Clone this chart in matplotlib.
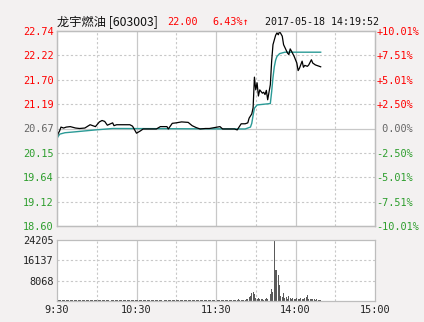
import matplotlib
matplotlib.use("Agg")
import matplotlib.pyplot as plt

# price ticks (left) and change labels (right)
price_ticks = [18.60, 19.12, 19.64, 20.15, 20.67, 21.19, 21.70, 22.22, 22.74]
pct_labels = ['-10.01%', '-7.51%', '-5.01%', '-2.50%', ' 0.00%',
              '+2.50%', '+5.01%', '+7.51%', '+10.01%']
prev_close = 20.67

# minute index (0 = 9:30, 120 = 13:00) and price
price_min = [0, 1, 2, 3, 5, 7, 10, 14, 17, 21, 25, 29, 32, 34, 36, 38, 42, 43,
             45, 51, 55, 57, 60, 63, 65, 70, 75, 78, 83, 84, 87, 90, 94, 99,
             102, 105, 108, 112, 115, 119, 123, 125, 131, 134, 136, 139, 142,
             144, 145, 147, 148, 149, 150, 151, 152, 153, 155, 156, 157, 158,
             159, 161, 162, 163, 165, 166, 167, 168, 170, 171, 174, 175, 176,
             177, 179, 181, 182, 183, 185, 186, 187, 189, 190, 192, 193, 195,
             197, 199]
price_val = [20.49, 20.57, 20.62, 20.70, 20.68, 20.70, 20.71, 20.68, 20.67,
             20.68, 20.75, 20.71, 20.81, 20.84, 20.82, 20.74, 20.79, 20.73,
             20.75, 20.75, 20.75, 20.72, 20.57, 20.62, 20.66, 20.66, 20.66,
             20.71, 20.71, 20.66, 20.78, 20.79, 20.81, 20.80, 20.73, 20.69,
             20.66, 20.67, 20.67, 20.69, 20.71, 20.66, 20.66, 20.66, 20.64,
             20.77, 20.77, 20.79, 20.89, 20.98, 21.11, 21.76, 21.49, 21.64,
             21.36, 21.49, 21.42, 21.44, 21.39, 21.48, 21.28, 21.60, 22.10,
             22.45, 22.65, 22.70, 22.66, 22.73, 22.63, 22.45, 22.27, 22.24,
             22.36, 22.31, 22.20, 22.06, 21.90, 21.95, 22.10, 21.97, 22.01,
             21.99, 22.02, 22.13, 22.06, 22.02, 22.00, 21.98]

# average price line
avg_min = [0, 2, 6, 14, 29, 42, 142, 146, 147, 148, 149, 151, 161, 162, 163,
           164, 165, 166, 168, 172, 199]
avg_val = [20.46, 20.55, 20.58, 20.60, 20.64, 20.67, 20.66, 20.70, 20.78,
           20.95, 21.10, 21.17, 21.20, 21.45, 21.75, 21.98, 22.12, 22.20,
           22.26, 22.29, 22.29]

# volume per minute, 9:30 .. 14:19
volume = [
    600, 500, 450, 400, 500, 400, 450, 400, 350, 400, 450, 400, 400, 350, 400,
    450, 400, 400, 350, 400, 400, 350, 400, 400, 450, 400, 350, 400, 400, 350,
    400, 400, 350, 400, 450, 400, 400, 350, 400, 400, 350, 400, 400, 350, 400,
    400, 350, 300, 350, 400, 400, 350, 400, 400, 350, 400, 400, 350, 400, 400,
    500, 450, 400, 350, 400, 400, 350, 400, 400, 350, 400, 350, 300, 350, 400,
    350, 400, 350, 400, 400, 350, 400, 400, 350, 300, 350, 400, 400, 350, 400,
    400, 350, 400, 400, 350, 400, 350, 400, 400, 350, 300, 350, 400, 350, 400,
    350, 300, 350, 300, 300, 350, 400, 350, 300, 350, 300, 300, 350, 300, 300,
    400, 350, 400, 350, 400, 350, 300, 350, 400, 350, 400, 400, 450, 400, 500,
    450, 500, 600, 500, 400,
    400, 300, 500, 600, 900, 1500, 2000, 3000, 3700, 2600, 1200, 800, 1300,
    700, 600, 900, 500, 700, 1000, 800, 1600, 2700, 4600, 3700, 24205, 12300,
    12300, 10300, 6300, 1800, 1700, 3000, 1000, 1700, 800, 2000, 1000, 900,
    1200, 800, 700, 1200, 900, 600, 1000, 800, 700, 1100, 1400, 2400, 900,
    700, 800, 600, 700, 500, 600, 500, 400, 400]
vol_ticks = [8068, 16137, 24205]
time_ticks = [0, 60, 120, 180, 240]
time_labels = ['9:30', '10:30', '11:30', '14:00', '15:00']

BG = '#f3f1f1'
RED = '#ff0000'
GREEN = '#2e9e2e'
GRAY = '#666666'
GRID = '#c8c8c8'
MONO = ['DejaVu Sans Mono']


def tick_color(v):
    if abs(v - prev_close) < 0.005:
        return GRAY
    return RED if v > prev_close else GREEN


def draw_vgrid(ax):
    for m in range(30, 240, 30):
        if m % 60 == 0:
            ax.axvline(m, color=GRID, lw=0.9, zorder=0)
        else:
            ax.axvline(m, color=GRID, lw=0.8, ls=(0, (2, 2)), zorder=0)


def style_frame(ax):
    for s in ax.spines.values():
        s.set_color('#bdbdbd')
        s.set_linewidth(0.9)
    ax.tick_params(length=0)


fig = plt.figure(figsize=(4.24, 3.22), dpi=100, facecolor=BG)

# main price panel
ax = fig.add_axes([57 / 424, 1 - 226 / 322, 318 / 424, 195 / 322])
ax.set_facecolor('white')
ax.set_xlim(0, 240)
ax.set_ylim(price_ticks[0], price_ticks[-1])
draw_vgrid(ax)
for v in price_ticks[1:-1]:
    if abs(v - prev_close) < 0.005:
        ax.axhline(v, color=GRID, lw=0.9, zorder=0)
    else:
        ax.axhline(v, color=GRID, lw=0.8, ls=(0, (2, 2)), zorder=0)
ax.plot(avg_min, avg_val, color='#2a9a96', lw=1.0, zorder=2)
ax.plot(price_min, price_val, color='black', lw=0.9, zorder=3)
ax.set_xticks([])
ax.set_yticks(price_ticks)
ax.set_yticklabels(['%.2f' % v for v in price_ticks], family=MONO, fontsize=7.4)
for lab, v in zip(ax.get_yticklabels(), price_ticks):
    lab.set_color(tick_color(v))
ax.tick_params(axis='y', pad=2.5)
style_frame(ax)

ax2 = ax.twinx()
ax2.set_ylim(ax.get_ylim())
ax2.set_yticks(price_ticks)
ax2.set_yticklabels(pct_labels, family=MONO, fontsize=7.4)
for lab, v in zip(ax2.get_yticklabels(), price_ticks):
    lab.set_color(tick_color(v))
ax2.tick_params(axis='y', pad=1)
style_frame(ax2)

# volume panel
axv = fig.add_axes([57 / 424, 1 - 301 / 322, 318 / 424, 61 / 322])
axv.set_facecolor('white')
axv.set_xlim(0, 240)
axv.set_ylim(0, vol_ticks[-1])
draw_vgrid(axv)
for v in vol_ticks[:-1]:
    axv.axhline(v, color=GRID, lw=0.8, ls=(0, (2, 2)), zorder=0)
axv.bar(range(len(volume)), volume, width=0.75, color='#5a5a5a', lw=0, zorder=2)
axv.set_yticks(vol_ticks)
axv.set_yticklabels([str(v) for v in vol_ticks], family=MONO, fontsize=7.4,
                    color='#222222')
axv.set_xticks(time_ticks)
axv.set_xticklabels(time_labels, family=MONO, fontsize=7.4, color='#222222')
axv.tick_params(axis='y', pad=2.5)
axv.tick_params(axis='x', pad=3)
style_frame(axv)

# header line
ty = 1 - 22 / 322
fig.text(57 / 424, ty, '龙宇燃油 [603003]', family=['Noto Sans CJK SC', 'DejaVu Sans'],
         fontsize=8.8, va='center', ha='left', color='#111111')
fig.text(167 / 424, ty, '22.00', family=MONO, fontsize=7.3, va='center',
         ha='left', color=RED)
fig.text(212 / 424, ty, '6.43%↑', family=MONO, fontsize=7.3, va='center',
         ha='left', color=RED)
fig.text(265 / 424, ty, '2017-05-18 14:19:52', family=MONO, fontsize=7.2,
         va='center', ha='left', color='#111111')

fig.savefig('out.png', dpi=100, facecolor=BG)
